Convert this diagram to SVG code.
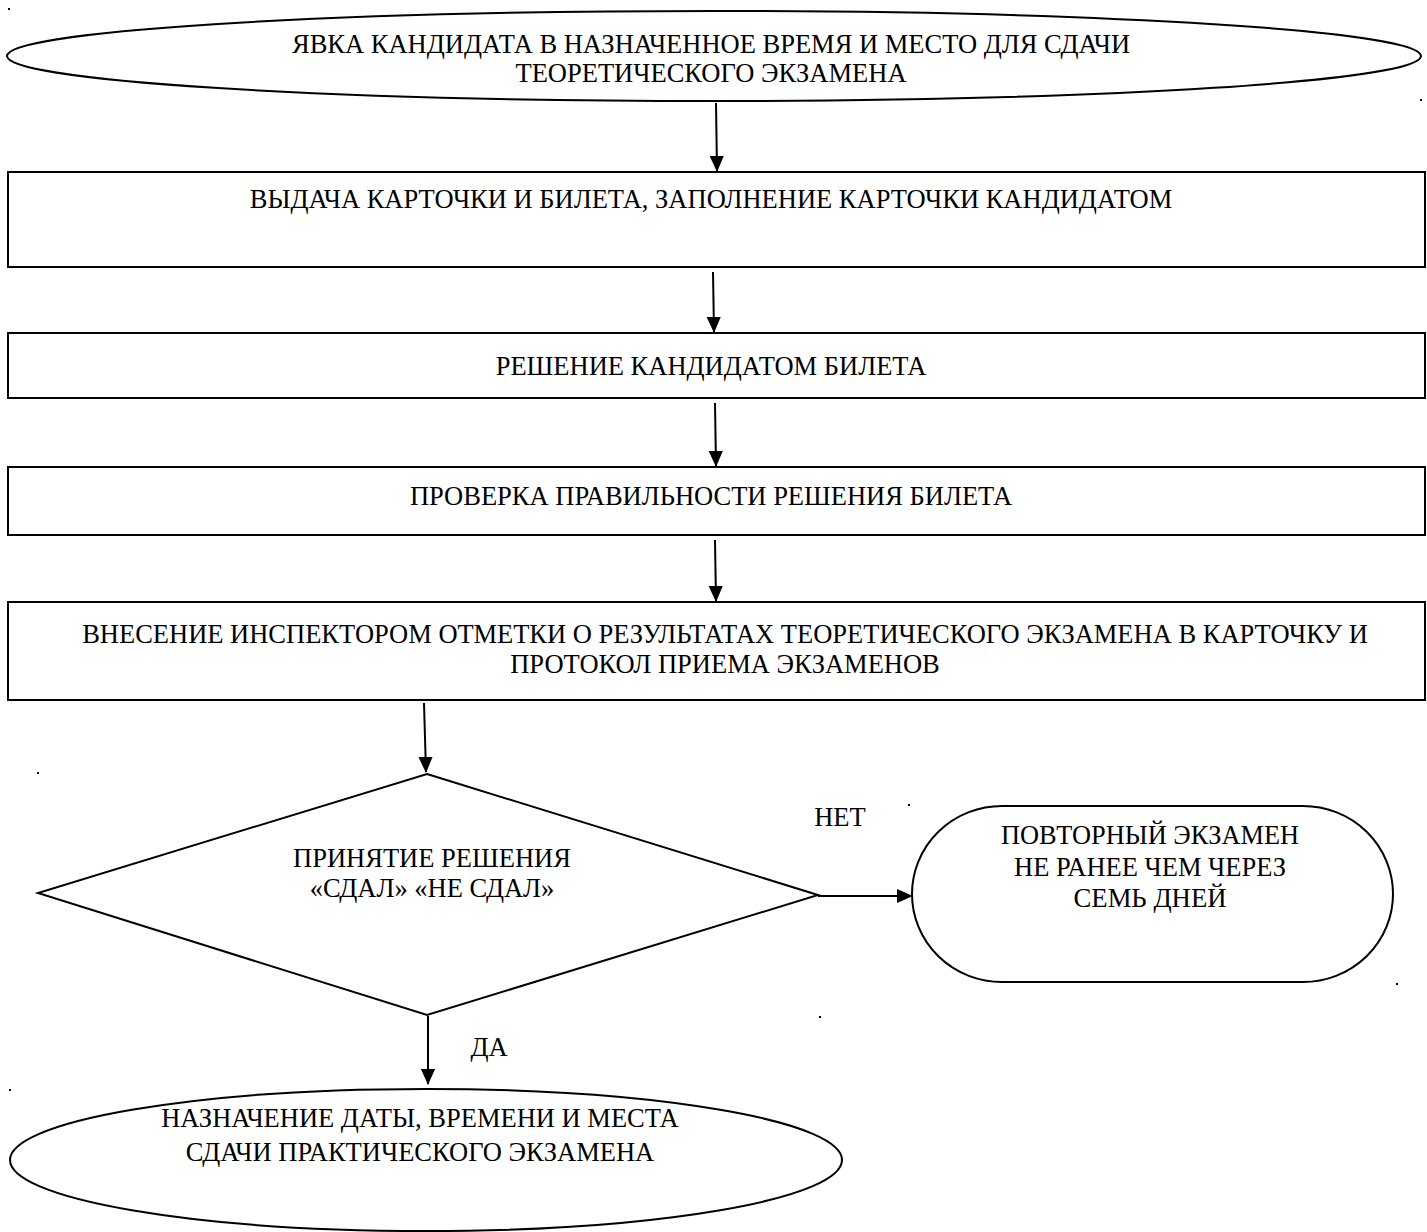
<svg xmlns="http://www.w3.org/2000/svg" width="1427" height="1232" viewBox="0 0 1427 1232">
<style>
.s{fill:#fff;stroke:#000;stroke-width:2}
.t{font-family:"Liberation Serif","Times New Roman",serif;font-size:26.5px;fill:#000;text-anchor:middle}
.k{font-size:28px}
.c{stroke:#000;stroke-width:2;fill:none}
.d{fill:#000}
</style>
<defs>
<marker id="ahb" markerWidth="16" markerHeight="18" refX="17" refY="8" orient="auto" markerUnits="userSpaceOnUse" viewBox="0 0 18 16">
<path d="M0,0 L18,8 L0,16 Z" fill="#000"/>
</marker>
</defs>
<g id="n1">
<ellipse class="s" cx="714" cy="56" rx="707" ry="45"/>
<text class="t" x="711" y="53">ЯВКА КАНДИДАТА В НАЗНАЧЕННОЕ ВРЕМЯ И МЕСТО ДЛЯ СДАЧИ</text>
<text class="t" x="711" y="82">ТЕОРЕТИЧЕСКОГО ЭКЗАМЕНА</text>
</g>
<g id="n2">
<rect class="s" x="8" y="172" width="1417" height="95"/>
<text class="t" x="711" y="208">ВЫДАЧА КАРТОЧКИ И БИЛЕТА, ЗАПОЛНЕНИЕ КАРТОЧКИ КАНДИДАТОМ</text>
</g>
<g id="n3">
<rect class="s" x="8" y="333" width="1417" height="65"/>
<text class="t" x="711" y="375">РЕШЕНИЕ КАНДИДАТОМ БИЛЕТА</text>
</g>
<g id="n4">
<rect class="s" x="8" y="467" width="1417" height="68"/>
<text class="t" x="711" y="505">ПРОВЕРКА ПРАВИЛЬНОСТИ РЕШЕНИЯ БИЛЕТА</text>
</g>
<g id="n5">
<rect class="s" x="8" y="602" width="1417" height="98"/>
<text class="t" x="725" y="643">ВНЕСЕНИЕ ИНСПЕКТОРОМ ОТМЕТКИ О РЕЗУЛЬТАТАХ ТЕОРЕТИЧЕСКОГО ЭКЗАМЕНА В КАРТОЧКУ И</text>
<text class="t" x="725" y="673">ПРОТОКОЛ ПРИЕМА ЭКЗАМЕНОВ</text>
</g>
<g id="n6">
<polygon class="s" points="427,774 818,895 427,1015 38,893"/>
<text class="t" x="432" y="867">ПРИНЯТИЕ РЕШЕНИЯ</text>
<text class="t" x="432" y="897">«СДАЛ» «НЕ СДАЛ»</text>
</g>
<g id="n7">
<rect class="s" x="912" y="806" width="481" height="176" rx="90" ry="88"/>
<text class="t k" x="1150" y="844" textLength="298" lengthAdjust="spacingAndGlyphs">ПОВТОРНЫЙ ЭКЗАМЕН</text>
<text class="t k" x="1150" y="876" textLength="272" lengthAdjust="spacingAndGlyphs">НЕ РАНЕЕ ЧЕМ ЧЕРЕЗ</text>
<text class="t k" x="1150" y="907" textLength="153" lengthAdjust="spacingAndGlyphs">СЕМЬ ДНЕЙ</text>
</g>
<g id="n8">
<ellipse class="s" cx="426" cy="1160" rx="416" ry="71"/>
<text class="t" x="420" y="1127">НАЗНАЧЕНИЕ ДАТЫ, ВРЕМЕНИ И МЕСТА</text>
<text class="t" x="420" y="1161">СДАЧИ ПРАКТИЧЕСКОГО ЭКЗАМЕНА</text>
</g>
<g id="connectors">
<line class="c" x1="716" y1="103" x2="717" y2="171" marker-end="url(#ahb)"/>
<line class="c" x1="713" y1="272" x2="714" y2="332" marker-end="url(#ahb)"/>
<line class="c" x1="715" y1="403" x2="716" y2="466" marker-end="url(#ahb)"/>
<line class="c" x1="715" y1="540" x2="716" y2="601" marker-end="url(#ahb)"/>
<line class="c" x1="424" y1="703" x2="426" y2="772" marker-end="url(#ahb)"/>
<line class="c" x1="818" y1="896" x2="912" y2="896" marker-end="url(#ahb)"/>
<line class="c" x1="428" y1="1016" x2="428" y2="1084" marker-end="url(#ahb)"/>
<text class="t" x="840" y="826">НЕТ</text>
<text class="t" x="489" y="1056">ДА</text>
</g>
<g id="dots">
<rect class="d" x="8" y="8" width="2" height="2"/>
<rect class="d" x="1420" y="99" width="2" height="2"/>
<rect class="d" x="37" y="772" width="2" height="2"/>
<rect class="d" x="908" y="804" width="2" height="2"/>
<rect class="d" x="1396" y="983" width="2" height="2"/>
<rect class="d" x="819" y="1016" width="2" height="2"/>
<rect class="d" x="9" y="1089" width="2" height="2"/>
</g>
</svg>
